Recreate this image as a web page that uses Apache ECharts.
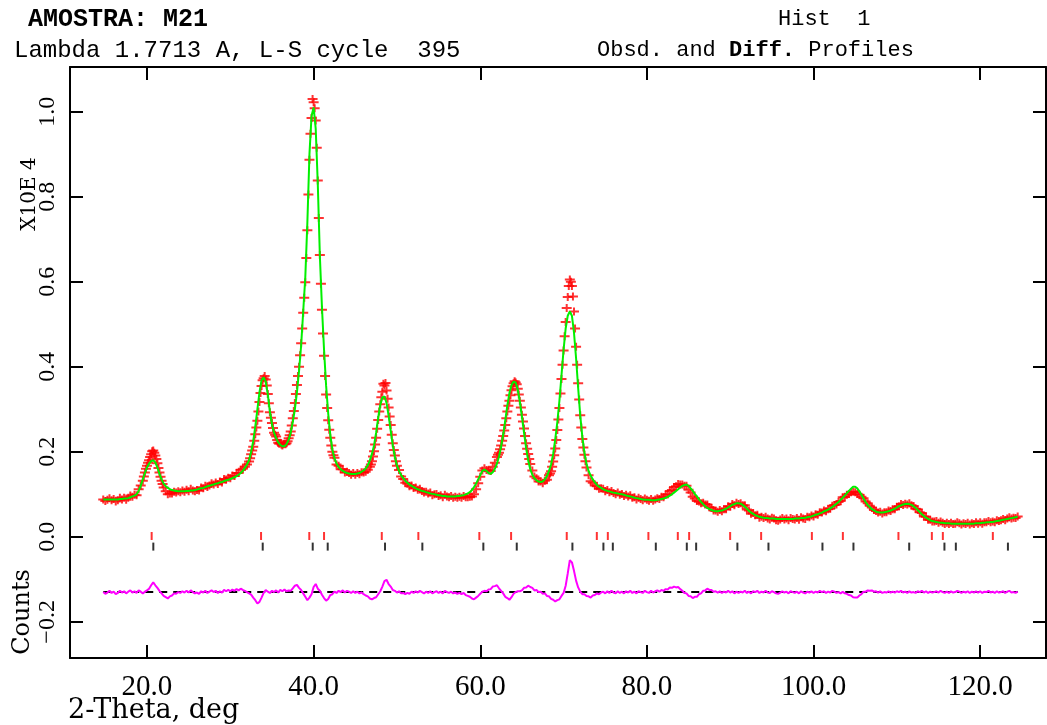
<!DOCTYPE html>
<html><head><meta charset="utf-8">
<script src="https://cdn.jsdelivr.net/npm/echarts@6/dist/echarts.min.js"></script>
<style>html,body{margin:0;padding:0;background:#fff}#c{width:1047px;height:725px}</style>
</head><body><div id="c"></div>
<script>
// 2-theta grid of the histogram (deg)
const TWO_THETA_START = 14.75;
const TWO_THETA_STEP = 0.25;
// calculated profile, counts (one row = 20 steps = 5 deg)
const calcCounts = [
 880,880,880,880,880,880,880,880,890,890,900,900,910,930,950,970,1000,1080,1200,1350,
 1500,1630,1720,1780,1800,1750,1630,1480,1350,1250,1190,1150,1120,1100,1090,1080,1070,1070,1070,1070,
 1080,1080,1090,1090,1100,1110,1130,1140,1150,1170,1190,1200,1220,1230,1250,1260,1280,1290,1310,1330,
 1340,1360,1380,1400,1430,1460,1500,1550,1620,1700,1800,2000,2250,2600,3000,3400,3680,3750,3650,3350,
 2950,2650,2450,2320,2220,2160,2130,2130,2180,2280,2450,2700,3000,3400,3900,4500,5300,6100,7400,9000,
 9900,10100,9600,8300,6600,5400,4400,3550,2900,2400,2050,1850,1720,1640,1590,1550,1520,1500,1490,1480,
 1480,1480,1490,1500,1530,1560,1610,1680,1800,1950,2150,2450,2800,3100,3280,3300,3150,2850,2500,2150,
 1880,1680,1550,1450,1380,1320,1270,1230,1200,1170,1140,1120,1100,1080,1070,1050,1040,1020,1010,1000,
 990,980,970,960,960,950,950,950,950,950,960,960,970,980,1000,1020,1050,1100,1170,1250,
 1350,1450,1550,1580,1550,1500,1480,1520,1600,1720,1890,2120,2400,2740,3090,3380,3570,3650,3630,3460,
 3180,2830,2450,2090,1800,1590,1460,1380,1330,1300,1290,1300,1350,1430,1550,1700,1950,2300,2700,3200,
 3800,4400,4900,5200,5300,5200,4800,4200,3500,2850,2350,1980,1720,1550,1440,1350,1280,1220,1180,1150,
 1120,1100,1080,1070,1050,1040,1030,1020,1010,1000,990,970,960,950,940,920,910,900,890,880,
 870,870,870,860,860,860,870,880,890,900,920,940,970,1000,1040,1080,1120,1160,1200,1220,
 1230,1200,1140,1080,1010,950,880,820,770,720,680,650,630,610,600,600,610,620,640,660,
 690,720,750,770,790,790,780,750,710,660,610,570,540,510,490,470,460,450,440,440,
 430,430,430,420,420,420,420,420,420,420,420,420,430,430,430,440,440,450,460,470,
 480,500,520,530,550,570,600,620,640,670,700,740,780,820,870,920,970,1030,1080,1130,
 1180,1180,1140,1070,990,900,820,750,700,650,620,590,580,570,570,580,590,600,620,640,
 660,690,720,740,760,770,780,770,750,720,680,630,580,530,490,450,420,390,370,360,
 350,340,330,330,320,320,320,310,310,310,310,310,310,310,310,310,310,310,310,320,
 320,320,330,330,340,340,350,350,360,370,380,390,400,410,420,430,440,450,460,470
];
// observed - calculated, counts (same grid)
const diffCounts = [
 0,-40,-10,30,-20,10,-50,-20,30,-10,20,-30,10,40,-10,20,-20,40,10,-30,
 10,40,80,160,230,160,100,30,-30,-90,-120,-150,-100,-80,-30,-40,0,-20,20,-10,
 30,-10,40,0,-30,-10,-40,20,-10,30,-20,10,40,0,30,-20,20,-10,50,20,
 50,20,60,30,70,40,80,50,30,0,-30,-60,-130,-190,-270,-230,-130,-20,50,10,
 -20,30,0,40,-10,50,20,60,20,40,30,90,150,170,100,50,-30,-110,-190,-130,
 -50,120,190,80,30,-60,-140,-200,-160,-70,-50,10,-20,30,0,40,-10,30,10,-20,
 20,-20,10,-30,-10,-50,-80,-100,-150,-170,-140,-120,-50,20,130,260,290,190,130,50,
 30,-10,20,-30,-20,-50,-20,-40,10,-20,20,-10,30,0,-30,10,-20,20,-30,0,
 20,-20,10,-30,30,0,-20,10,-30,-10,-40,-20,-50,-20,-70,-90,-110,-150,-170,-130,
 -90,-40,10,30,20,60,70,130,140,160,90,30,-30,-110,-140,-180,-120,-40,0,20,
 20,40,100,110,150,120,100,40,50,0,10,-40,-30,-90,-100,-160,-180,-220,-190,-170,
 -90,-20,150,440,750,700,500,270,110,10,-50,-50,-90,-100,-130,-80,-70,-30,-50,-10,
 10,-30,20,-20,30,-10,-30,20,-20,10,-30,20,-10,30,-20,10,-30,20,0,-20,
 30,0,-20,30,-10,20,40,10,50,30,70,60,110,100,130,110,120,70,30,-20,
 -30,-90,-100,-140,-110,-110,-50,-30,30,40,80,50,50,10,20,-10,20,-20,10,-10,
 30,-10,20,-30,10,-20,10,-10,30,-20,10,-30,20,0,30,-20,10,-10,30,-10,
 -20,20,0,-30,-40,-10,20,-10,10,-30,20,0,-20,10,-30,20,-10,-30,10,-10,
 20,-20,10,-10,30,0,20,-20,10,-10,30,10,-20,0,-30,10,-30,-40,-70,-80,
 -120,-130,-130,-80,-50,10,10,40,30,40,10,20,-10,20,-20,0,-10,20,-10,10,
 -10,20,0,30,-10,10,-20,20,-10,0,-20,20,0,30,-10,20,-20,10,-10,0,
 20,-10,30,0,-20,10,-20,20,-10,0,30,10,-20,10,-10,20,-20,10,-10,20,
 -10,20,-20,10,0,30,-10,10,-20,20,-10,0,20,-20,10,30,-10,0,-20,10
];
// extra observed points read on the steep peak flanks: [2-theta, counts]
const obsExtra = [
 [19.625,1420],[19.875,1600],[20.125,1740],[20.375,1880],[20.625,2010],[20.875,1980],[21.125,1830],[21.375,1620],[21.625,1410],[21.875,1240],
 [32.375,1850],[32.625,2030],[32.875,2260],[33.125,2570],[33.375,2950],[33.625,3380],[33.875,3680],[34.125,3780],[34.375,3560],[34.625,3140],
 [34.875,2800],[35.125,2560],[35.375,2400],[35.625,2280],[35.875,2190],[36.125,2170],[36.375,2180],[36.625,2180],[36.875,2250],[37.125,2390],
 [37.375,2620],[37.625,2960],[37.875,3360],[38.125,3780],[38.375,4270],[38.625,4900],[38.875,5620],[39.125,6560],[39.375,8050],[39.625,9480],
 [39.875,10300],[40.125,10080],[40.375,9150],[40.625,7500],[40.875,5950],[41.125,4780],[41.375,3780],[41.625,3030],[41.875,2520],[42.125,2150],[42.375,1920],
 [46.875,1700],[47.125,1890],[47.375,2170],[47.625,2540],[47.875,2950],[48.125,3280],[48.375,3600],[48.625,3620],[48.875,3250],[49.125,2830],[49.375,2400],[49.625,2040],[49.875,1780],
 [62.125,1930],[62.375,2060],[62.625,2260],[62.875,2500],[63.125,2790],[63.375,3080],[63.625,3330],[63.875,3540],[64.125,3660],[64.375,3590],
 [64.625,3350],[64.875,3040],[65.125,2710],[65.375,2370],[65.625,2070],[65.875,1830],
 [68.375,1490],[68.625,1650],[68.875,1920],[69.125,2280],[69.375,2760],[69.625,3370],[69.875,4050],[70.125,4720],[70.375,5380],[70.625,5900],
 [70.875,6000],[71.125,5650],[71.375,4900],[71.625,4050],[71.875,3230],[72.125,2570],[72.375,2100],[72.625,1780]
];
// reflection positions (deg)
const reflRed = [20.56,33.69,39.48,41.25,48.18,52.57,59.89,63.70,70.38,73.99,75.31,80.18,83.71,85.07,89.99,93.71,99.80,103.52,110.19,114.20,115.52,121.52];
const reflBlack = [20.76,33.89,39.89,41.69,48.57,53.05,60.37,64.38,71.06,74.78,75.91,81.07,84.79,85.91,90.86,94.59,101.07,104.79,111.48,115.71,117.08,123.33];
const xTicks = [20, 40, 60, 80, 100, 120];
const yTicks = [-0.2, 0, 0.2, 0.4, 0.6, 0.8, 1.0];
const SCALE = 1e4;          // X10E 4
const DIFF_OFFSET = -0.13;  // difference curve baseline
const RED_ROW = 0.002, BLACK_ROW = -0.023;

const tt = calcCounts.map((_, i) => +(TWO_THETA_START + i * TWO_THETA_STEP).toFixed(3));
const calcData = tt.map((t, i) => [t, calcCounts[i] / SCALE]);
const obsData = tt.map((t, i) => [t, (calcCounts[i] + diffCounts[i]) / SCALE])
  .concat(obsExtra.map(p => [p[0], p[1] / SCALE]));
const diffData = tt.map((t, i) => [t, diffCounts[i] / SCALE + DIFF_OFFSET]);
const baseData = [[tt[0], DIFF_OFFSET], [tt[tt.length - 1], DIFF_OFFSET]];

const XMIN = 10.76, XMAX = 127.9, YMIN = -0.285, YMAX = 1.105;
const serif = 'Liberation Serif';
const dserif = 'DejaVu Serif';
const mono = 'Liberation Mono';
const axisLine = { show: true, onZero: false, lineStyle: { color: '#000', width: 2 } };
const tick = (vals) => ({ show: true, inside: true, length: 13, customValues: vals, lineStyle: { color: '#000', width: 2 } });

const chart = echarts.init(document.getElementById('c'), null, { renderer: 'canvas' });
chart.setOption({
  animation: false,
  backgroundColor: '#fff',
  grid: { left: 70, right: 1, top: 67, bottom: 67, containLabel: false },
  xAxis: [
    { type: 'value', position: 'bottom', min: XMIN, max: XMAX, axisLine, axisTick: tick(xTicks), splitLine: { show: false },
      axisLabel: { customValues: xTicks, formatter: v => v.toFixed(1), margin: 15, color: '#000', fontFamily: serif, fontSize: 29 } },
    { type: 'value', position: 'top', min: XMIN, max: XMAX, axisLine, axisTick: tick(xTicks), splitLine: { show: false }, axisLabel: { show: false } }
  ],
  yAxis: [
    { type: 'value', position: 'left', min: YMIN, max: YMAX, axisLine, axisTick: tick(yTicks), splitLine: { show: false },
      axisLabel: { customValues: yTicks, rotate: 90, formatter: v => (v < 0 ? '\u2212' : '') + Math.abs(v).toFixed(1), margin: 10, color: '#000', fontFamily: serif, fontSize: 24 } },
    { type: 'value', position: 'right', min: YMIN, max: YMAX, axisLine, axisTick: tick(yTicks), splitLine: { show: false }, axisLabel: { show: false } }
  ],
  series: [
    { type: 'line', data: baseData, showSymbol: false, silent: true, z: 1,
      lineStyle: { color: '#000', width: 2, type: [8, 6] } },
    { type: 'line', data: diffData, showSymbol: false, silent: true, z: 2,
      lineStyle: { color: '#ff00ff', width: 2 } },
    { type: 'scatter', data: obsData, silent: true, z: 3,
      symbol: 'path://M0,3H4V0H6V3H10V5H6V8H4V5H0Z', symbolSize: [10, 8],
      itemStyle: { color: '#ff0000' } },
    { type: 'line', data: calcData, showSymbol: false, silent: true, z: 4,
      lineStyle: { color: '#00f000', width: 2 } },
    { type: 'scatter', data: reflRed.map(t => [t, RED_ROW]), symbol: 'rect', symbolSize: [2, 8], silent: true, z: 5, itemStyle: { color: '#ff0000' } },
    { type: 'scatter', data: reflBlack.map(t => [t, BLACK_ROW]), symbol: 'rect', symbolSize: [2, 8], silent: true, z: 5, itemStyle: { color: '#000' } }
  ],
  graphic: [
    { type: 'text', left: 28, top: 7, style: { text: 'AMOSTRA: M21', font: 'bold 25px "' + mono + '"', fill: '#000' } },
    { type: 'text', left: 14, top: 39, style: { text: 'Lambda 1.7713 A, L-S cycle  395', font: '24px "' + mono + '"', fill: '#000' } },
    { type: 'text', left: 778, top: 8, style: { text: 'Hist  1', font: '22px "' + mono + '"', fill: '#000' } },
    { type: 'text', left: 597, top: 39, style: { text: '{r|Obsd. and }{b|Diff.}{r| Profiles}', fill: '#000',
        rich: { r: { fontFamily: mono, fontSize: 22 }, b: { fontFamily: mono, fontSize: 22, fontWeight: 'bold' } } } },
    { type: 'text', x: 30, y: 194, rotation: Math.PI / 2, style: { text: 'X10E 4', font: '20px "' + dserif + '"', fill: '#000', align: 'center', verticalAlign: 'middle' } },
    { type: 'text', x: 23, y: 612, rotation: Math.PI / 2, style: { text: 'Counts', font: '24px "' + dserif + '"', fill: '#000', align: 'center', verticalAlign: 'middle' } },
    { type: 'text', left: 68, top: 697, style: { text: '2-Theta, deg', font: '27px "' + dserif + '"', fill: '#000' } }
  ]
});
</script></body></html>
